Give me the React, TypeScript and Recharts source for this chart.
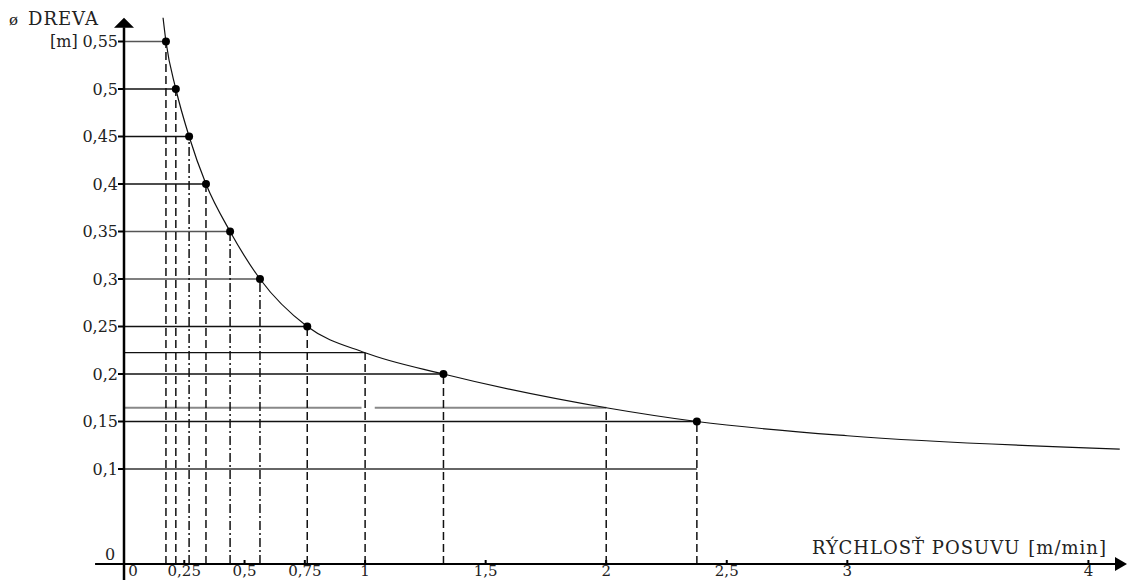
import React from 'react';
import { ComposedChart, Line, Scatter, XAxis, YAxis, ReferenceLine, ReferenceDot, Label } from 'recharts';

// feed speed [m/min] vs. log diameter [m]
const curveSpeed = [0.162, 0.174, 0.215, 0.27, 0.34, 0.44, 0.564, 0.76, 1, 1.325, 2, 2.376, 3, 4.13];
const curveDiameter = [0.575, 0.55, 0.5, 0.45, 0.4, 0.35, 0.3, 0.25, 0.2224, 0.2, 0.1645, 0.15, 0.135, 0.121];

// marked points
const pointSpeed = [0.174, 0.215, 0.27, 0.34, 0.44, 0.564, 0.76, 1.325, 2.376];
const pointDiameter = [0.55, 0.5, 0.45, 0.4, 0.35, 0.3, 0.25, 0.2, 0.15];
const dashDot = [false, false, true, false, true, true, false, false, false];

// read-off helpers at 1 and 2 m/min
const guideSpeed = [1, 2];
const guideDiameter = [0.2224, 0.1645];
const baseDiameter = 0.1;

const xTicks = [0, 0.25, 0.5, 0.75, 1, 1.5, 2, 2.5, 3, 4];
const yTicks = [0, 0.1, 0.15, 0.2, 0.25, 0.3, 0.35, 0.4, 0.45, 0.5, 0.55];

const curve = curveSpeed.map((s, i) => ({ speed: s, diameter: curveDiameter[i] }));
const points = pointSpeed.map((s, i) => ({ speed: s, diameter: pointDiameter[i] }));

const FONT = '"DejaVu Serif", serif';
const fmt = (v: number) => String(v).replace('.', ',');

const XTick = (props: any) => {
  const { x, y, payload } = props;
  const v = payload.value;
  return (
    <g>
      {v !== 0 && <line x1={x} x2={x} y1={y - 4} y2={y} stroke="#000" strokeWidth={2} />}
      <text x={v === 0 ? x + 9 : x} y={y + 12} textAnchor="middle" fontFamily={FONT} fontSize={15} fill="#222">
        {fmt(v)}
      </text>
    </g>
  );
};

const YTick = (props: any) => {
  const { x, y, payload } = props;
  const v = payload.value;
  if (v === 0) {
    return (
      <text x={x - 14} y={y - 4} textAnchor="middle" fontFamily={FONT} fontSize={16} fill="#222">0</text>
    );
  }
  return (
    <g>
      <line x1={x - 6} x2={x} y1={y} y2={y} stroke="#000" strokeWidth={2} />
      <text x={x - 6} y={y} dy="0.35em" textAnchor="end" fontFamily={FONT} fontSize={16} fill="#222">
        {fmt(v)}
      </text>
    </g>
  );
};

const Dot = (props: any) => <circle cx={props.cx} cy={props.cy} r={4} fill="#000" />;

const UpArrow = (props: any) => (
  <path d={`M${props.cx},${props.cy} L${props.cx - 10},${props.cy + 10} L${props.cx + 10},${props.cy + 10} Z`} fill="#000" />
);
const RightArrow = (props: any) => (
  <path d={`M${props.cx},${props.cy} L${props.cx - 12},${props.cy - 7} L${props.cx - 12},${props.cy + 7} Z`} fill="#000" />
);

export default function App() {
  return (
    <div style={{ position: 'absolute', left: 0, top: 0, width: 1132, height: 580, background: '#fff' }}>
      <ComposedChart width={1132} height={580} data={curve} margin={{ top: 13, right: 5, bottom: 0, left: 0 }}>
        <XAxis
          type="number"
          dataKey="speed"
          domain={[0, 4.16]}
          allowDataOverflow
          ticks={xTicks}
          axisLine={false}
          tickLine={false}
          tickSize={0}
          tickMargin={0}
          height={16}
          tick={<XTick />}
          interval={0}
        >
          <Label
            content={() => (
              <text x={812} y={554} fontFamily={FONT} fontSize={18} fill="#222" letterSpacing={1}>
                RÝCHLOSŤ POSUVU
                <tspan dx={8}>[m/min]</tspan>
              </text>
            )}
          />
        </XAxis>
        <YAxis
          type="number"
          dataKey="diameter"
          domain={[0, 0.58]}
          allowDataOverflow
          ticks={yTicks}
          axisLine={false}
          tickLine={false}
          tickSize={0}
          tickMargin={0}
          width={124}
          tick={<YTick />}
          interval={0}
        >
          <Label
            content={() => (
              <g fontFamily={FONT} fill="#222">
                <text x={9} y={25} fontSize={15}>ø</text>
                <text x={28} y={25} fontSize={18} letterSpacing={1}>DREVA</text>
                <text x={50} y={47} fontSize={16}>[m]</text>
              </g>
            )}
          />
        </YAxis>

        {points.map((p, i) => (
          <ReferenceLine
            key={`h${i}`}
            segment={[{ x: 0, y: p.diameter }, { x: p.speed, y: p.diameter }]}
            stroke={i === 0 || i === 4 || i === 5 ? '#555' : '#111'}
            strokeWidth={1.3}
          />
        ))}
        <ReferenceLine segment={[{ x: 0, y: guideDiameter[0] }, { x: guideSpeed[0], y: guideDiameter[0] }]} stroke="#111" strokeWidth={1.3} />
        <ReferenceLine segment={[{ x: 0, y: guideDiameter[1] }, { x: 0.985, y: guideDiameter[1] }]} stroke="#888" strokeWidth={2} />
        <ReferenceLine segment={[{ x: 1.04, y: guideDiameter[1] }, { x: guideSpeed[1], y: guideDiameter[1] }]} stroke="#888" strokeWidth={2} />
        <ReferenceLine
          segment={[{ x: 0, y: baseDiameter }, { x: pointSpeed[pointSpeed.length - 1], y: baseDiameter }]}
          stroke="#333"
          strokeWidth={1.3}
        />

        {points.map((p, i) => (
          <ReferenceLine
            key={`v${i}`}
            segment={[{ x: p.speed, y: 0 }, { x: p.speed, y: p.diameter }]}
            stroke="#111"
            strokeWidth={1.5}
            strokeDasharray={dashDot[i] ? '9 3 2 3' : '8 4'}
          />
        ))}
        {guideSpeed.map((s, i) => (
          <ReferenceLine
            key={`g${i}`}
            segment={[{ x: s, y: 0 }, { x: s, y: guideDiameter[i] }]}
            stroke="#111"
            strokeWidth={1.5}
            strokeDasharray="8 4"
          />
        ))}

        {/* axes with arrows */}
        <ReferenceLine segment={[{ x: 0, y: -0.02 }, { x: 0, y: 0.565 }]} stroke="#000" strokeWidth={2.5} ifOverflow="visible" />
        <ReferenceLine segment={[{ x: -0.12, y: 0 }, { x: 4.12, y: 0 }]} stroke="#000" strokeWidth={2} ifOverflow="visible" />
        <ReferenceDot x={0} y={0.575} shape={<UpArrow />} ifOverflow="visible" />
        <ReferenceDot x={4.16} y={0} shape={<RightArrow />} ifOverflow="visible" />

        <Line
          type="monotone"
          dataKey="diameter"
          stroke="#111"
          strokeWidth={1.2}
          dot={false}
          activeDot={false}
          isAnimationActive={false}
        />
        <Scatter data={points} dataKey="diameter" shape={<Dot />} isAnimationActive={false} />
      </ComposedChart>
    </div>
  );
}
